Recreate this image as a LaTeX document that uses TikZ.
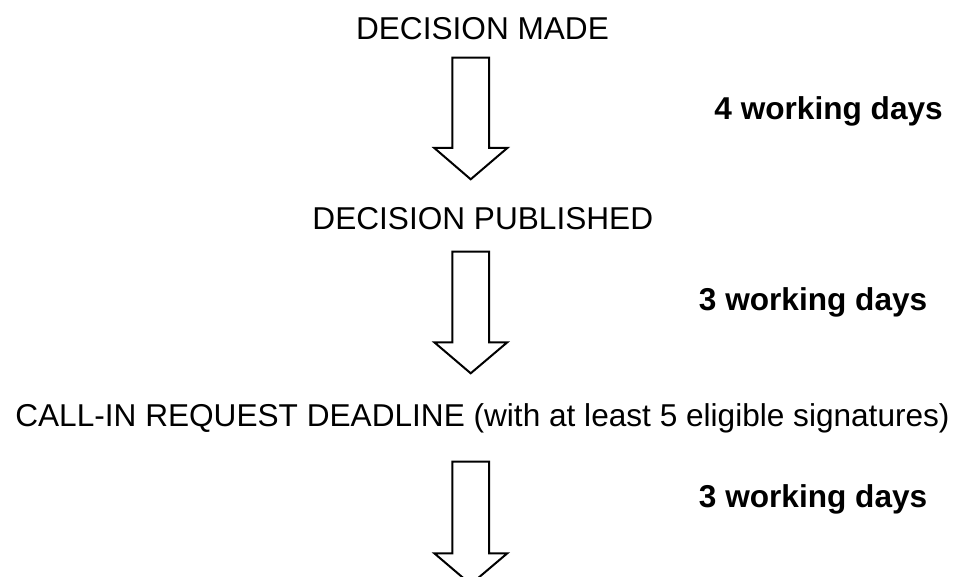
\documentclass[tikz,border=0pt]{standalone}
\usepackage{fontspec}
\setmainfont{Liberation Sans}
\begin{document}
\begin{tikzpicture}[x=0.75pt,y=-0.75pt,
  stage/.style={anchor=base,inner sep=0pt,font=\fontsize{23.7pt}{28pt}\selectfont},
  daylabel/.style={anchor=base east,inner sep=0pt,font=\fontsize{23.7pt}{28pt}\selectfont\bfseries},
  blockarrow/.style={draw=black,line width=1.5pt,fill=white,line join=miter}]
\useasboundingbox (0,0) rectangle (959,577);
\node[stage] (made) at (482.5,40) {DECISION MADE};
\node[stage] (pub) at (482.8,229.3) {DECISION PUBLISHED};
\node[stage] (call) at (482.5,426.7) {CALL-IN REQUEST DEADLINE (with at least 5 eligible signatures)};
\node[daylabel] (d1) at (943,119.3) {4 working days};
\node[daylabel] (d2) at (927.5,310) {3 working days};
\node[daylabel] (d3) at (927.5,507) {3 working days};
\begin{scope}
\clip (0,0) rectangle (959,577);
\foreach \top/\base/\tip in {57.7/148/179.3, 251.7/342.3/373.3, 461.7/553.3/584.3}{
  \draw[blockarrow] (452.3,\top) -- (489,\top) -- (489,\base) -- (507.3,\base) -- (470.7,\tip) -- (434.3,\base) -- (452.3,\base) -- cycle;
}
\end{scope}
\end{tikzpicture}
\end{document}
